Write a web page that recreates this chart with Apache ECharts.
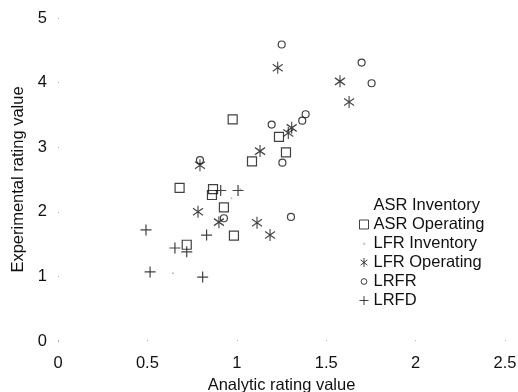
<!DOCTYPE html>
<html>
<head>
<meta charset="utf-8">
<script src="https://cdn.jsdelivr.net/npm/echarts@6/dist/echarts.min.js"></script>
<style>html,body{margin:0;padding:0;background:#fff}#c{width:518px;height:392px}</style>
</head>
<body>
<div id="c"></div>
<script>
// ---- data (analytic, experimental) ----
var seriesNames = ['ASR Inventory', 'ASR Operating', 'LFR Inventory', 'LFR Operating', 'LRFR', 'LRFD'];
var asrInventory = [];
var asrOperating = [[0.977,3.43],[0.68,2.37],[0.867,2.35],[0.861,2.26],[0.928,2.07],[0.984,1.63],[0.72,1.49],[1.085,2.78],[1.236,3.16],[1.275,2.92]];
var lfrInventory = [[0.643,1.05],[0.97,2.21],[1.02,2.35]];
var lfrOperating = [[0.794,2.72],[1.229,4.23],[1.577,4.02],[1.628,3.70],[1.307,3.30],[1.288,3.22],[1.130,2.94],[1.113,1.83],[1.186,1.64],[0.783,2.00],[0.90,1.84]];
var lrfr = [[1.251,4.59],[1.698,4.31],[1.754,3.99],[1.385,3.51],[1.366,3.41],[1.195,3.35],[1.255,2.76],[1.303,1.92],[0.928,1.90],[0.794,2.80]];
var lrfd = [[0.91,2.33],[1.007,2.33],[0.492,1.72],[0.831,1.64],[0.654,1.44],[0.72,1.38],[0.515,1.07],[0.809,0.99]];
var xTicks = [0, 0.5, 1, 1.5, 2, 2.5];
var yTicks = [0, 1, 2, 3, 4, 5];

var FONT = '"Liberation Sans", Arial, Helvetica, sans-serif';
var FS = 16.5;
var INK = '#111';
var asteriskPath = 'path://M5 0 L5 12 M0.5 2.5 L9.5 9.5 M0.5 9.5 L9.5 2.5';
var plusPath = 'path://M5 0 L5 10 M0 5 L10 5';
var tinyDotPath = 'path://M0 0 M10 10 M4 4 L6.5 4 L6.5 6.5 L4 6.5 Z';
var smallCirclePath = 'path://M0 0 M10 10 M5 1.8 A3.2 3.2 0 1 1 4.99 1.8 Z';

function lineSym(name, data, symbol, size) {
  return {
    name: name, type: 'scatter', data: data, symbol: symbol, symbolSize: size,
    itemStyle: {color: 'rgba(0,0,0,0)', borderColor: INK, borderWidth: 1.2},
    emphasis: {disabled: true}, z: 3
  };
}

var chart = echarts.init(document.getElementById('c'), null, {renderer: 'canvas'});
chart.setOption({
  animation: false,
  backgroundColor: '#fff',
  grid: {left: 58, right: 13, top: 18, bottom: 51, containLabel: false, outerBoundsMode: 'none'},
  xAxis: {
    type: 'value', min: xTicks[0], max: xTicks[xTicks.length - 1], interval: 0.5,
    name: 'Analytic rating value', nameLocation: 'middle', nameGap: 35,
    nameTextStyle: {fontFamily: FONT, fontSize: FS, color: INK},
    axisLine: {show: false},
    axisTick: {show: true, inside: true, length: 1, lineStyle: {color: '#aaa'}},
    axisLabel: {fontFamily: FONT, fontSize: FS, color: INK, margin: 14},
    splitLine: {show: false}
  },
  yAxis: {
    type: 'value', min: yTicks[0], max: yTicks[yTicks.length - 1], interval: 1,
    name: 'Experimental rating value', nameLocation: 'middle', nameGap: 31,
    nameTextStyle: {fontFamily: FONT, fontSize: FS, color: INK},
    axisLine: {show: false},
    axisTick: {show: true, inside: true, length: 1, lineStyle: {color: '#aaa'}},
    axisLabel: {fontFamily: FONT, fontSize: FS, color: INK, margin: 11},
    splitLine: {show: false}
  },
  legend: {
    orient: 'vertical', left: 354, top: 192, itemWidth: 9, itemHeight: 9, itemGap: 2,
    textStyle: {fontFamily: FONT, fontSize: FS, color: INK},
    itemStyle: {borderWidth: 1},
    data: [
      {name: seriesNames[0], itemStyle: {opacity: 0}},
      {name: seriesNames[1]},
      {name: seriesNames[2], icon: tinyDotPath, itemStyle: {color: '#bbb'}},
      {name: seriesNames[3]},
      {name: seriesNames[4], icon: smallCirclePath},
      {name: seriesNames[5]}
    ],
    selectedMode: false
  },
  series: [
    {name: seriesNames[0], type: 'scatter', data: asrInventory, symbol: 'circle', symbolSize: 1,
     itemStyle: {color: '#ccc'}, emphasis: {disabled: true}},
    lineSym(seriesNames[1], asrOperating, 'rect', 9),
    {name: seriesNames[2], type: 'scatter', data: lfrInventory, symbol: 'circle', symbolSize: 2,
     itemStyle: {color: '#aaa'}, emphasis: {disabled: true}},
    lineSym(seriesNames[3], lfrOperating, asteriskPath, [10, 12]),
    lineSym(seriesNames[4], lrfr, 'circle', 7),
    lineSym(seriesNames[5], lrfd, plusPath, 11)
  ]
});
</script>
</body>
</html>
